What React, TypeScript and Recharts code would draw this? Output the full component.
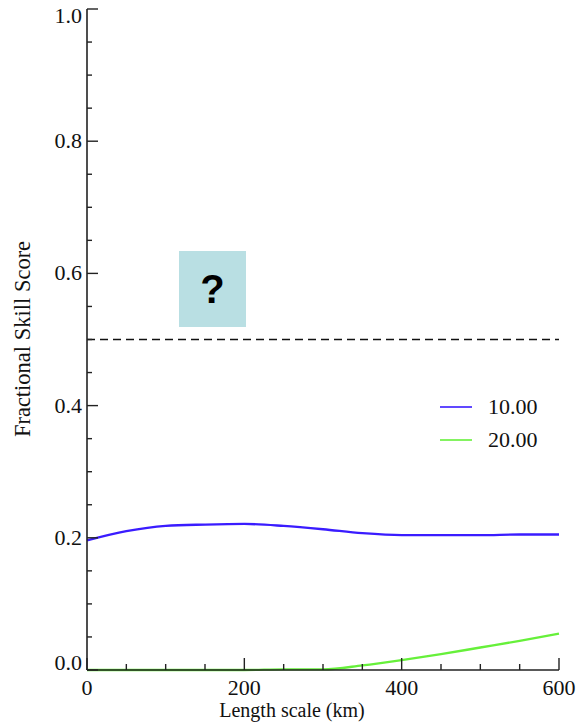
import React from 'react';
import { LineChart, Line, XAxis, YAxis, ReferenceLine } from 'recharts';

const lengthScaleKm = [0, 50, 100, 150, 200, 250, 300, 350, 400, 450, 500, 550, 600];
const fss10 = [0.196, 0.210, 0.218, 0.220, 0.221, 0.218, 0.213, 0.207, 0.204, 0.204, 0.204, 0.205, 0.205];
const fss20 = [0, 0, 0, 0, 0, 0.001, 0.001, 0.007, 0.015, 0.024, 0.034, 0.044, 0.055];
const seriesNames = ['10.00', '20.00'];
const seriesColors = ['#3a1cff', '#66f03a'];
const xTicks = [0, 50, 100, 150, 200, 250, 300, 350, 400, 450, 500, 550, 600];
const xMajorTicks = [0, 200, 400, 600];
const yTicks = [0, 0.05, 0.1, 0.15, 0.2, 0.25, 0.3, 0.35, 0.4, 0.45, 0.5, 0.55, 0.6, 0.65, 0.7, 0.75, 0.8, 0.85, 0.9, 0.95, 1.0];
const yMajorTicks = [0, 0.2, 0.4, 0.6, 0.8, 1.0];
const referenceValue = 0.5;
const xLabel = 'Length scale (km)';
const yLabel = 'Fractional Skill Score';

const data = lengthScaleKm.map((km, i) => ({ km, s10: fss10[i], s20: fss20[i] }));

const FONT = '"Liberation Serif", "Times New Roman", serif';
const AX = '#222';

const isMajor = (v: number, majors: number[]) => majors.some((m) => Math.abs(m - v) < 1e-6);

const BottomTick = (props: any) => {
  const { x, y, payload } = props;
  const major = isMajor(payload.value, xMajorTicks);
  const len = major ? 12 : 6;
  return (
    <g>
      <line x1={x} x2={x} y1={y} y2={y - len} stroke={AX} strokeWidth={1.4} />
      {major && (
        <text x={x} y={y + 25} textAnchor="middle" style={{ fontFamily: FONT, fontSize: 22 }} fill="#111">
          {payload.value}
        </text>
      )}
    </g>
  );
};

const TopTick = (props: any) => {
  const { x, y, payload } = props;
  const major = isMajor(payload.value, xMajorTicks);
  const len = major ? 12 : 6;
  return <line x1={x} x2={x} y1={y} y2={y + len} stroke={AX} strokeWidth={1.4} />;
};

const LeftTick = (props: any) => {
  const { x, y, payload } = props;
  const major = isMajor(payload.value, yMajorTicks);
  const len = major ? 11 : 5;
  const dy = payload.value === 0 ? -7 : payload.value === 1 ? 7 : 0;
  return (
    <g>
      <line x1={x} x2={x + len} y1={y} y2={y} stroke={AX} strokeWidth={1.4} />
      {major && (
        <text x={x - 5} y={y + 7 + dy} textAnchor="end" style={{ fontFamily: FONT, fontSize: 22 }} fill="#111">
          {payload.value.toFixed(1)}
        </text>
      )}
    </g>
  );
};

const RightTick = (props: any) => {
  const { x, y, payload } = props;
  const major = isMajor(payload.value, yMajorTicks);
  const len = major ? 11 : 5;
  return <line x1={x} x2={x - len} y1={y} y2={y} stroke={AX} strokeWidth={1.4} />;
};

export default function App() {
  return (
    <div style={{ position: 'absolute', left: 0, top: 0, width: 577, height: 727, background: '#fff' }}>
      <LineChart
        width={577}
        height={727}
        data={data}
        margin={{ top: 9, right: 18, bottom: 0, left: 0 }}
      >
        <XAxis
          xAxisId="bottom"
          dataKey="km"
          type="number"
          domain={[0, 600]}
          ticks={xTicks}
          interval={0}
          tickLine={false}
          tickSize={0}
          tickMargin={0}
          height={57}
          axisLine={{ stroke: AX, strokeWidth: 1.6 }}
          tick={<BottomTick />}
        />
        <XAxis
          xAxisId="top"
          orientation="top"
          dataKey="km"
          type="number"
          domain={[0, 600]}
          ticks={xTicks}
          interval={0}
          tickLine={false}
          tickSize={0}
          tickMargin={0}
          height={0}
          axisLine={{ stroke: AX, strokeWidth: 1.6 }}
          tick={<TopTick />}
        />
        <YAxis
          yAxisId="left"
          type="number"
          domain={[0, 1]}
          ticks={yTicks}
          interval={0}
          tickLine={false}
          tickSize={0}
          tickMargin={0}
          width={87}
          axisLine={{ stroke: AX, strokeWidth: 1.6 }}
          tick={<LeftTick />}
        />
        <YAxis
          yAxisId="right"
          orientation="right"
          type="number"
          domain={[0, 1]}
          ticks={yTicks}
          interval={0}
          tickLine={false}
          tickSize={0}
          tickMargin={0}
          width={0}
          axisLine={{ stroke: AX, strokeWidth: 1.6 }}
          tick={<RightTick />}
        />
        <ReferenceLine
          xAxisId="bottom"
          yAxisId="left"
          y={referenceValue}
          stroke="#111"
          strokeWidth={1.3}
          strokeDasharray="8 5"
        />
        <Line
          xAxisId="bottom"
          yAxisId="left"
          type="monotone"
          dataKey="s10"
          name={seriesNames[0]}
          stroke={seriesColors[0]}
          strokeWidth={2.4}
          dot={false}
          isAnimationActive={false}
        />
        <Line
          xAxisId="bottom"
          yAxisId="left"
          type="monotone"
          dataKey="s20"
          name={seriesNames[1]}
          stroke={seriesColors[1]}
          strokeWidth={2.4}
          dot={false}
          isAnimationActive={false}
        />
      </LineChart>

      {/* axis titles */}
      <div
        style={{
          position: 'absolute',
          left: 0,
          top: 699,
          width: 584,
          textAlign: 'center',
          fontFamily: FONT,
          fontSize: 20,
          color: '#111',
          whiteSpace: 'nowrap',
        }}
      >
        {xLabel}
      </div>
      <div
        style={{
          position: 'absolute',
          left: 23,
          top: 339,
          transform: 'translate(-50%, -50%) rotate(-90deg)',
          fontFamily: FONT,
          fontSize: 22.5,
          color: '#111',
          whiteSpace: 'nowrap',
        }}
      >
        {yLabel}
      </div>

      {/* legend */}
      <div style={{ position: 'absolute', left: 440, top: 390, fontFamily: FONT, fontSize: 22, color: '#111' }}>
        {seriesNames.map((name, i) => (
          <div key={name} style={{ display: 'flex', alignItems: 'center', height: 33 }}>
            <svg width={32} height={4} style={{ display: 'block' }}>
              <line x1={0} x2={32} y1={2} y2={2} stroke={seriesColors[i]} strokeWidth={1.6} />
            </svg>
            <span style={{ marginLeft: 16 }}>{name}</span>
          </div>
        ))}
      </div>

      {/* placeholder box */}
      <div
        style={{
          position: 'absolute',
          left: 179,
          top: 251,
          width: 67,
          height: 76,
          background: '#b9dfe3',
          display: 'flex',
          alignItems: 'center',
          justifyContent: 'center',
          fontFamily: 'Liberation Sans, Arial, sans-serif',
          fontWeight: 'bold',
          fontSize: 40,
          color: '#000',
        }}
      >
        ?
      </div>
    </div>
  );
}
